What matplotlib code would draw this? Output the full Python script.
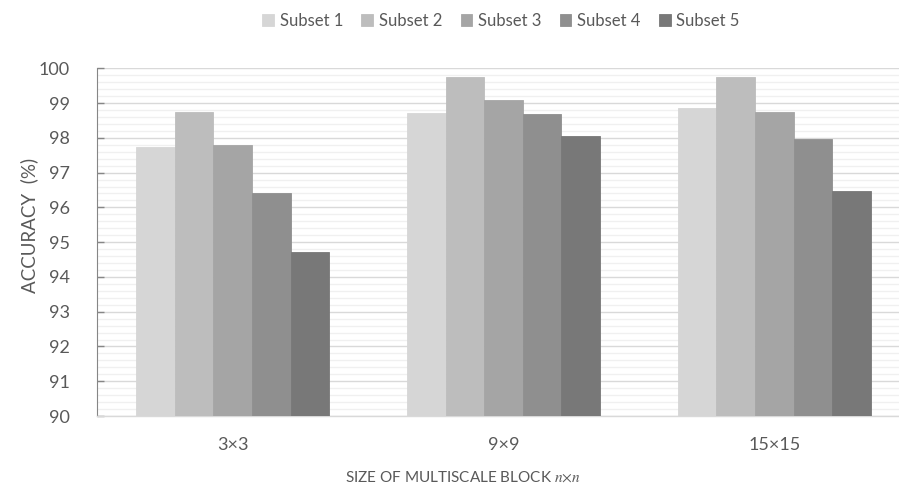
import numpy as np
import matplotlib.pyplot as plt
from matplotlib.ticker import MultipleLocator

plt.rcParams['font.family'] = ['Lato', 'DejaVu Sans']
plt.rcParams['mathtext.fontset'] = 'stix'

# data
categories = ['3×3', '9×9', '15×15']
series = ['Subset 1', 'Subset 2', 'Subset 3', 'Subset 4', 'Subset 5']
subset1 = [97.74, 98.72, 98.87]
subset2 = [98.74, 99.74, 99.74]
subset3 = [97.79, 99.10, 98.74]
subset4 = [96.42, 98.68, 97.98]
subset5 = [94.72, 98.04, 96.48]
values = [subset1, subset2, subset3, subset4, subset5]
colors = ['#d6d6d6', '#bdbdbd', '#a5a5a5', '#8f8f8f', '#787878']

txt = '#595959'

fig = plt.figure(figsize=(8.99, 4.86), dpi=100)
# plot area runs a little past the right edge, like the cropped original
ax = fig.add_axes([97.3/899, 70/486, 812.4/899, 347.7/486])

x = np.arange(len(categories))
group = 0.713
w = group / len(series)
for i, (name, vals) in enumerate(zip(series, values)):
    ax.bar(x - group/2 + w*(i + 0.5), vals, width=w, color=colors[i],
           edgecolor=colors[i], linewidth=0.6, label=name, zorder=3)

ax.set_xlim(-0.5, 2.5)
ax.set_ylim(90, 100)
ax.yaxis.set_major_locator(MultipleLocator(1))
ax.yaxis.set_minor_locator(MultipleLocator(0.2))
ax.grid(axis='y', which='major', color='#d9d9d9', linewidth=1.0, zorder=0)
ax.grid(axis='y', which='minor', color='#f0f0f0', linewidth=1.0, zorder=0)

for s in ['top', 'right']:
    ax.spines[s].set_visible(False)
ax.spines['left'].set_color('#868686')
ax.spines['bottom'].set_color('#d9d9d9')
ax.spines['bottom'].set_linewidth(1.0)

ax.set_xticks(x)
ax.set_xticklabels(categories)
ax.tick_params(axis='x', length=0, pad=15, labelsize=13, labelcolor=txt)
ax.tick_params(axis='y', which='major', direction='in', length=5, width=1,
               color='#868686', pad=20, labelsize=13, labelcolor=txt)
ax.tick_params(axis='y', which='minor', length=0)

fig.text(29/899, 1 - 225/486, 'ACCURACY  (%)', rotation=90, ha='center', va='center',
         fontsize=13.5, color=txt)
fig.text(463/899, 1 - 477/486, r'SIZE OF MULTISCALE BLOCK $n{\times}n$', ha='center', va='center',
         fontsize=11, color=txt)

fig.legend(loc='center', bbox_to_anchor=(501/899, 1 - 21/486), ncol=5, frameon=False,
           fontsize=12, labelcolor=txt, handlelength=0.7, handleheight=0.7,
           handletextpad=0.35, columnspacing=1.1)

fig.savefig('out.png', dpi=100)
